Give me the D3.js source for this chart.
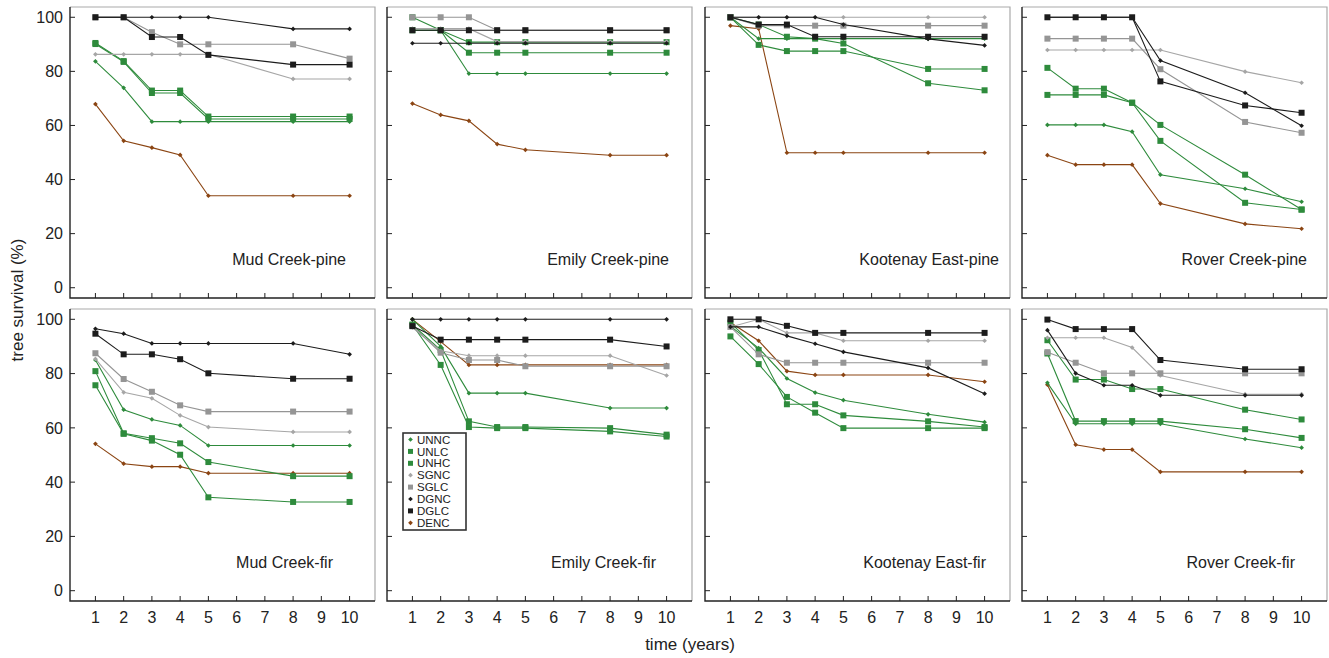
<!DOCTYPE html>
<html>
<head>
<meta charset="utf-8">
<script src="https://cdn.jsdelivr.net/npm/d3@7"></script>
<style>
  body { margin: 0; background: #fff; }
  text { font-family: "Liberation Sans", Arial, sans-serif; fill: #222; }
</style>
</head>
<body>
<div class="chart"></div>
<script>
// years measured
const years = [1, 2, 3, 4, 5, 8, 10];
const seriesNames = ["UNNC", "UNLC", "UNHC", "SGNC", "SGLC", "DGNC", "DGLC", "DENC"];
const yTicks = [0, 20, 40, 60, 80, 100];
const xTicks = [1, 2, 3, 4, 5, 6, 7, 8, 9, 10];

// survival (%) per series, order as seriesNames
const mudCreekPine = [
  [83.7, 73.9, 61.4, 61.4, 61.4, 61.4, 61.4],
  [90.5, 83.8, 72.9, 72.9, 63.3, 63.3, 63.3],
  [90.1, 83.5, 72.0, 72.0, 62.4, 62.4, 62.4],
  [86.3, 86.3, 86.3, 86.3, 86.3, 77.2, 77.2],
  [100, 100, 94.5, 90.0, 90.0, 90.0, 84.7],
  [100, 100, 100, 100, 100, 95.7, 95.7],
  [100, 100, 92.7, 92.7, 86.1, 82.5, 82.5],
  [67.9, 54.3, 51.8, 49.1, 34.0, 34.0, 34.0]
];
const emilyCreekPine = [
  [95.2, 95.2, 79.2, 79.2, 79.2, 79.2, 79.2],
  [100, 95.2, 86.9, 86.9, 86.9, 86.9, 86.9],
  [95.2, 95.2, 90.8, 90.8, 90.8, 90.8, 90.8],
  [95.8, 95.8, 95.8, 91.0, 91.0, 91.0, 91.0],
  [100, 100, 100, 95.2, 95.2, 95.2, 95.2],
  [90.4, 90.4, 90.4, 90.4, 90.4, 90.4, 90.4],
  [95.2, 95.2, 95.2, 95.2, 95.2, 95.2, 95.2],
  [68.1, 63.9, 61.7, 53.1, 51.0, 49.0, 49.0]
];
const kootenayEastPine = [
  [100, 92.1, 92.1, 92.1, 92.1, 92.1, 92.1],
  [100, 89.8, 87.5, 87.5, 87.5, 80.9, 80.9],
  [100, 97.3, 92.8, 92.1, 90.3, 75.6, 73.0],
  [100, 100, 100, 100, 100, 100, 100],
  [100, 96.9, 96.9, 96.9, 96.9, 96.9, 96.9],
  [100, 100, 100, 100, 97.3, 92.0, 89.6],
  [100, 97.3, 97.3, 92.8, 92.8, 92.8, 92.8],
  [96.9, 95.8, 49.9, 49.9, 49.9, 49.9, 49.9]
];
const roverCreekPine = [
  [60.2, 60.2, 60.2, 57.7, 41.8, 36.6, 31.8],
  [81.3, 73.6, 73.6, 68.4, 60.2, 41.8, 28.9],
  [71.3, 71.3, 71.3, 68.4, 54.3, 31.4, 28.9],
  [87.9, 87.9, 87.9, 87.9, 87.9, 79.9, 75.8],
  [92.1, 92.1, 92.1, 92.1, 80.8, 61.3, 57.3],
  [100, 100, 100, 100, 84.0, 72.1, 59.9],
  [100, 100, 100, 100, 76.3, 67.4, 64.7],
  [49.0, 45.5, 45.5, 45.5, 31.1, 23.6, 21.8]
];
const mudCreekFir = [
  [85.0, 66.7, 63.1, 60.9, 53.5, 53.5, 53.5],
  [80.9, 58.0, 56.2, 54.3, 47.4, 42.2, 42.2],
  [75.7, 57.8, 55.3, 50.1, 34.4, 32.7, 32.7],
  [85.4, 73.1, 70.9, 64.6, 60.3, 58.5, 58.5],
  [87.5, 78.0, 73.3, 68.3, 66.0, 66.0, 66.0],
  [96.5, 94.7, 91.1, 91.1, 91.1, 91.1, 87.1],
  [94.7, 87.1, 87.1, 85.3, 80.1, 78.1, 78.1],
  [54.1, 46.8, 45.7, 45.7, 43.3, 43.3, 43.3]
];
const emilyCreekFir = [
  [100, 90.0, 72.8, 72.8, 72.8, 67.3, 67.3],
  [98.0, 83.2, 60.3, 59.9, 59.9, 58.7, 56.8],
  [98.0, 88.7, 62.4, 60.3, 60.3, 59.9, 57.5],
  [97.0, 88.4, 86.6, 86.6, 86.6, 86.6, 79.3],
  [97.5, 87.7, 85.0, 85.0, 82.7, 82.7, 82.7],
  [100, 100, 100, 100, 100, 100, 100],
  [97.5, 92.5, 92.5, 92.5, 92.5, 92.5, 90.0],
  [100, 91.8, 83.2, 83.2, 83.2, 83.2, 83.2]
];
const kootenayEastFir = [
  [97.5, 89.4, 78.2, 73.0, 70.2, 65.0, 62.1],
  [98.8, 88.7, 68.7, 68.7, 64.6, 62.4, 60.3],
  [93.7, 83.5, 71.4, 65.6, 59.9, 59.9, 59.9],
  [97.2, 100, 95.0, 95.0, 92.1, 92.1, 92.1],
  [97.2, 87.1, 84.0, 84.0, 84.0, 84.0, 84.0],
  [97.2, 97.2, 93.9, 91.0, 88.0, 82.1, 72.6],
  [100, 100, 97.6, 95.0, 95.0, 95.0, 95.0],
  [98.8, 92.1, 80.9, 79.5, 79.5, 79.5, 77.0]
];
const roverCreekFir = [
  [76.6, 61.5, 61.5, 61.5, 61.5, 55.9, 52.7],
  [92.3, 77.8, 77.8, 74.3, 74.3, 66.7, 63.1],
  [87.4, 62.5, 62.5, 62.5, 62.5, 59.5, 56.3],
  [93.2, 93.2, 93.2, 89.6, 79.3, 72.4, 72.4],
  [87.9, 84.0, 80.1, 80.1, 80.1, 80.1, 80.1],
  [96.0, 80.1, 75.7, 75.7, 72.0, 72.0, 72.0],
  [99.9, 96.4, 96.4, 96.4, 85.0, 81.6, 81.6],
  [75.9, 53.8, 52.0, 52.0, 43.8, 43.8, 43.8]
];

const panelTitles = [
  "Mud Creek-pine", "Emily Creek-pine", "Kootenay East-pine", "Rover Creek-pine",
  "Mud Creek-fir", "Emily Creek-fir", "Kootenay East-fir", "Rover Creek-fir"
];
const panelData = [
  mudCreekPine, emilyCreekPine, kootenayEastPine, roverCreekPine,
  mudCreekFir, emilyCreekFir, kootenayEastFir, roverCreekFir
];

// styling per series
const seriesColor = {
  UNNC: "#2e8b3c", UNLC: "#2e8b3c", UNHC: "#2e8b3c",
  SGNC: "#a6a6a6", SGLC: "#959595",
  DGNC: "#1c1c1c", DGLC: "#1c1c1c", DENC: "#8b4513"
};
const isSquare = name => name.endsWith("LC") || name.endsWith("HC");
const drawOrder = [7, 0, 1, 2, 3, 4, 5, 6];

const width = 1329;
const height = 658;
const panelW = 305;
const panelLeft = [70, 387, 705, 1022];
const rowTop = [7, 309];
const rowH = [291, 292];
const titleInset = [29, 23, 11, 20, 42, 36, 24, 32];

const svg = d3.select(".chart").append("svg")
  .attr("width", width)
  .attr("height", height);

const x = d3.scaleLinear().domain([0.1, 10.9]).range([0, panelW]);
// small diamond: a square turned 45 degrees
const diamond = d3.symbol(d3.symbolSquare, 11);

panelData.forEach((data, p) => {
  const row = Math.floor(p / 4), col = p % 4;
  const h = rowH[row];
  const y = d3.scaleLinear().domain([-3.8, 103.8]).range([h, 0]);
  const g = svg.append("g")
    .attr("transform", `translate(${panelLeft[col]},${rowTop[row]})`);

  // frame: dark left/bottom, light top/right
  g.append("path").attr("d", `M0,0H${panelW}V${h}`)
    .attr("fill", "none").attr("stroke", "#aaa").attr("stroke-width", 1.2);
  g.append("path").attr("d", `M0,0V${h}H${panelW}`)
    .attr("fill", "none").attr("stroke", "#222").attr("stroke-width", 1.4);

  // inward ticks
  g.selectAll(".yt").data(yTicks).enter().append("line")
    .attr("x1", 0).attr("x2", 5)
    .attr("y1", d => y(d)).attr("y2", d => y(d))
    .attr("stroke", "#222");
  g.selectAll(".xt").data(xTicks).enter().append("line")
    .attr("x1", d => x(d)).attr("x2", d => x(d))
    .attr("y1", h).attr("y2", h - 5)
    .attr("stroke", "#222");

  if (col === 0) {
    g.selectAll(".yl").data(yTicks).enter().append("text")
      .attr("x", -7).attr("y", d => y(d))
      .attr("text-anchor", "end").attr("dy", "0.36em")
      .style("font-size", "16px")
      .text(d => d);
  }
  if (row === 1) {
    g.selectAll(".xl").data(xTicks).enter().append("text")
      .attr("x", d => x(d)).attr("y", h + 16)
      .attr("text-anchor", "middle").attr("dy", "0.36em")
      .style("font-size", "16px")
      .text(d => d);
  }

  const line = d3.line().x((d, i) => x(years[i])).y(d => y(d));

  drawOrder.forEach(s => {
    const name = seriesNames[s];
    const vals = data[s];
    const c = seriesColor[name];
    g.append("path").datum(vals)
      .attr("d", line)
      .attr("fill", "none")
      .attr("stroke", c)
      .attr("stroke-width", 1.1);
    if (isSquare(name)) {
      g.selectAll(null).data(vals).enter().append("rect")
        .attr("x", (d, i) => x(years[i]) - 3)
        .attr("y", d => y(d) - 3)
        .attr("width", 6).attr("height", 6)
        .attr("fill", c);
    } else {
      g.selectAll(null).data(vals).enter().append("path")
        .attr("d", diamond)
        .attr("transform", (d, i) => `translate(${x(years[i])},${y(d)}) rotate(45)`)
        .attr("fill", c);
    }
  });

  g.append("text")
    .attr("x", panelW - titleInset[p])
    .attr("y", h - 33)
    .attr("text-anchor", "end")
    .style("font-size", "16px")
    .text(panelTitles[p]);

  // legend in Emily Creek-fir panel
  if (p === 5) {
    const lg = g.append("g").attr("transform", "translate(16,124)");
    lg.append("rect")
      .attr("width", 63).attr("height", 97)
      .attr("fill", "#fff").attr("stroke", "#333").attr("stroke-width", 1.6);
    seriesNames.forEach((name, i) => {
      const cy = 6.5 + i * 11.9;
      if (isSquare(name)) {
        lg.append("rect").attr("x", 5).attr("y", cy - 2.5)
          .attr("width", 5).attr("height", 5).attr("fill", seriesColor[name]);
      } else {
        lg.append("path").attr("d", diamond)
          .attr("transform", `translate(7.5,${cy}) rotate(45)`).attr("fill", seriesColor[name]);
      }
      lg.append("text").attr("x", 14).attr("y", cy).attr("dy", "0.36em")
        .style("font-size", "11.5px").text(name);
    });
  }
});

// axis titles
svg.append("text")
  .attr("transform", "translate(23,300) rotate(-90)")
  .attr("text-anchor", "middle")
  .style("font-size", "17px")
  .text("tree survival (%)");

svg.append("text")
  .attr("x", 690).attr("y", 650)
  .attr("text-anchor", "middle")
  .style("font-size", "17px")
  .text("time (years)");
</script>
</body>
</html>
